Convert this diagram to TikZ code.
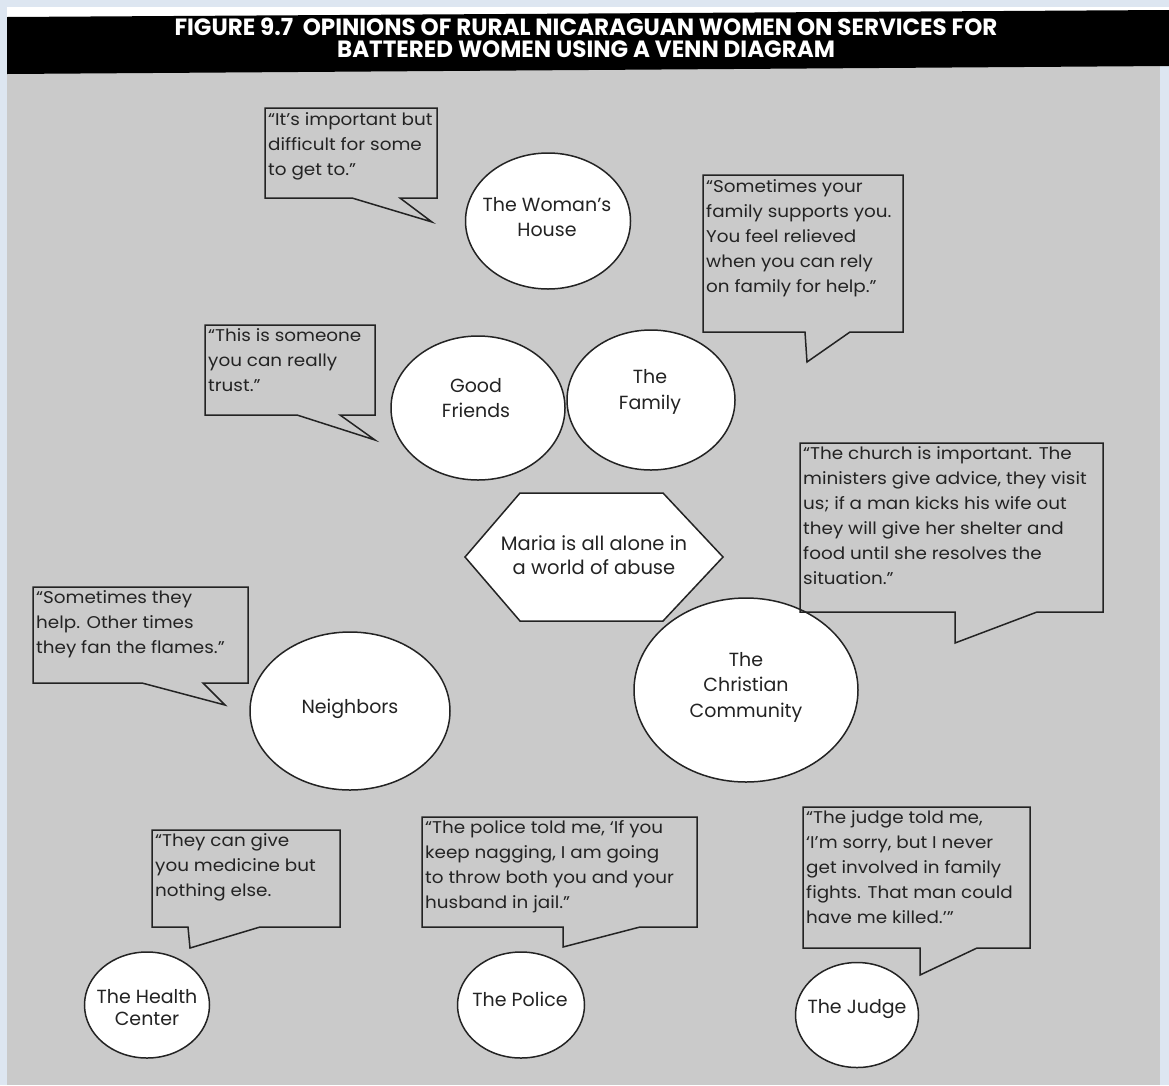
\documentclass[tikz,border=0pt]{standalone}
\usepackage{fontspec}
\setmainfont{Poppins}
\newfontfamily\headfont{Poppins}
\newfontfamily\quotefont{Poppins}[FakeStretch=1.08]
\usetikzlibrary{shapes.geometric}
\definecolor{frameblue}{RGB}{221,230,241}
\definecolor{paper}{RGB}{202,202,202}
\definecolor{ink}{RGB}{35,35,35}

\begin{document}
\begin{tikzpicture}[x=1pt,y=-1pt,
  circ/.style={ellipse, draw=ink, line width=1.5pt, fill=white, inner sep=0pt},
  ctext/.style={align=center, inner sep=0pt, text=ink, font=\fontsize{19}{25.5}\selectfont},
  csmall/.style={ctext, font=\fontsize{19}{22}\selectfont},
  qtext/.style={align=left, anchor=north west, inner sep=0pt, text=ink, font=\quotefont\fontsize{17}{25}\selectfont},
  bubble/.style={draw=ink, line width=1.5pt, line join=miter},
  headtext/.style={text=white, inner sep=0pt, font=\headfont\bfseries\fontsize{23.5}{22}\selectfont}]

% page, frame and title band
\useasboundingbox (0,0) rectangle (1169,1085);
\fill[frameblue] (0,0) rectangle (1169,1085);
\fill[paper] (7,7) rectangle (1160,1085);
\fill[white] (7,7) rectangle (1169,20);
\fill[black] (7,17) -- (1169,10) -- (1169,66) -- (7,74) -- cycle;
\node[headtext] (title1) at (586,27) {\scalebox{0.98}[1]{FIGURE 9.7\ \ OPINIONS OF RURAL NICARAGUAN WOMEN ON SERVICES FOR}};
\node[headtext] (title2) at (586,49) {\scalebox{0.98}[1]{BATTERED WOMEN USING A VENN DIAGRAM}};

% circles
\node[circ, minimum width=165pt, minimum height=136pt] (house) at (548,221) {};
\node[ctext] (house-l) at (547,217) {The Woman’s\\House};
\node[circ, minimum width=174pt, minimum height=144pt] (friends) at (478,408) {};
\node[ctext] (friends-l) at (476,398) {Good\\Friends};
\node[circ, minimum width=168pt, minimum height=140pt] (family) at (651,400) {};
\node[ctext] (family-l) at (650,392) {The\\Family};
\node[circ, minimum width=224pt, minimum height=184pt] (church) at (746,690) {};
\node[ctext] (church-l) at (746,687) {The\\Christian\\Community};
\node[circ, minimum width=200pt, minimum height=158pt] (neigh) at (350,711) {};
\node[ctext] (neigh-l) at (350,709) {Neighbors};
\node[circ, minimum width=125pt, minimum height=106pt] (health) at (147,1005) {};
\node[csmall] (health-l) at (147,1008) {The Health\\Center};
\node[circ, minimum width=127pt, minimum height=106pt] (police) at (521,1005) {};
\node[csmall] (police-l) at (520,999) {The Police};
\node[circ, minimum width=123pt, minimum height=105pt] (judge) at (857,1015) {};
\node[csmall] (judge-l) at (857,1009) {The Judge};

% centre hexagon
\filldraw[circ] (465,557) -- (520,493) -- (663,493) -- (723,557) -- (663,621) -- (520,621) -- cycle;
\node[ctext, font=\fontsize{19.5}{24}\selectfont] (maria) at (594,555) {Maria is all alone in\\a world of abuse};

% speech bubbles
\draw[bubble] (265,108) -- (437,108) -- (437,198) -- (400,198) -- (432,222) -- (352,198) -- (265,198) -- cycle;
\node[qtext] (q-house) at (268,112) {“It’s important but\\difficult for some\\to get to.”};

\draw[bubble] (205,325) -- (375,325) -- (375,415) -- (340,415) -- (375,440) -- (297,415) -- (205,415) -- cycle;
\node[qtext] (q-friends) at (208,328) {“This is someone\\you can really\\trust.”};

\draw[bubble] (703,175) -- (903,175) -- (903,332) -- (850,332) -- (807,362) -- (805,332) -- (703,332) -- cycle;
\node[qtext] (q-family) at (706,179) {“Sometimes your\\family supports you.\\You feel relieved\\when you can rely\\on family for help.”};

\draw[bubble] (800,443) -- (1103,443) -- (1103,612) -- (1037,612) -- (955,643) -- (955,612) -- (800,612) -- cycle;
\node[qtext] (q-church) at (803,446) {“The church is important. The\\ministers give advice, they visit\\us; if a man kicks his wife out\\they will give her shelter and\\food until she resolves the\\situation.”};

\draw[bubble] (33,587) -- (248,587) -- (248,683) -- (203,683) -- (225,705) -- (142,683) -- (33,683) -- cycle;
\node[qtext] (q-neigh) at (36,590) {“Sometimes they\\help. Other times\\they fan the flames.”};

\draw[bubble] (152,830) -- (340,830) -- (340,927) -- (260,927) -- (190,948) -- (188,927) -- (152,927) -- cycle;
\node[qtext] (q-health) at (155,833) {“They can give\\you medicine but\\nothing else.};

\draw[bubble] (422,817) -- (697,817) -- (697,927) -- (640,927) -- (563,947) -- (563,927) -- (422,927) -- cycle;
\node[qtext] (q-police) at (425,820) {“The police told me, ‘If you\\keep nagging, I am going\\to throw both you and your\\husband in jail.”};

\draw[bubble] (803,807) -- (1030,807) -- (1030,948) -- (977,948) -- (920,975) -- (920,948) -- (803,948) -- cycle;
\node[qtext] (q-judge) at (806,810) {“The judge told me,\\‘I’m sorry, but I never\\get involved in family\\fights. That man could\\have me killed.’”};
\end{tikzpicture}
\end{document}
